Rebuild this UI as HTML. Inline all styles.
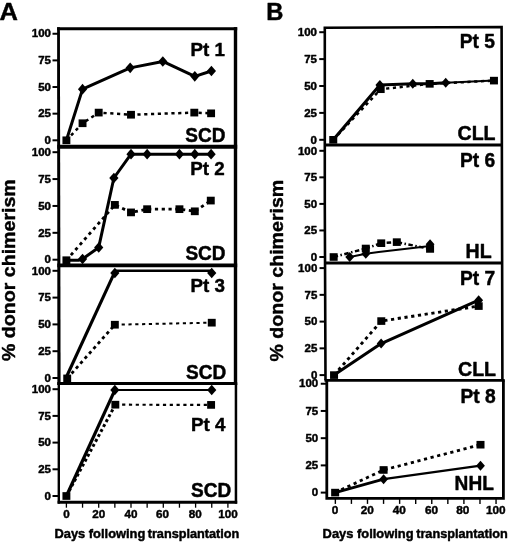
<!DOCTYPE html>
<html><head><meta charset="utf-8"><title>Donor chimerism</title>
<style>
html,body{margin:0;padding:0;background:#fff;}
body{width:520px;height:542px;overflow:hidden;}
svg{display:block;filter:grayscale(1);font-family:"Liberation Sans",sans-serif;font-weight:bold;fill:#000;}
</style></head><body>
<svg width="520" height="542" viewBox="0 0 520 542">
<rect x="0" y="0" width="520" height="542" fill="#fff" stroke="none"/>
<polygon points="57.1,27.15 59.9,27.15 60.6,384.9 57.4,384.9" fill="#000"/>
<rect x="233.8" y="27.15" width="3.4" height="357.7" fill="#000"/>
<line x1="57.10" y1="28.70" x2="237.20" y2="28.70" stroke="#000" stroke-width="3.1" />
<line x1="57.30" y1="146.65" x2="237.20" y2="146.65" stroke="#000" stroke-width="4.0" />
<line x1="57.30" y1="265.35" x2="237.20" y2="265.35" stroke="#000" stroke-width="3.9" />
<line x1="57.30" y1="383.40" x2="237.20" y2="383.40" stroke="#000" stroke-width="3.0" />
<rect x="57.6" y="383.4" width="2.4" height="120.25" fill="#000"/>
<rect x="234.7" y="383.4" width="2.5" height="120.25" fill="#000"/>
<line x1="57.60" y1="502.25" x2="237.20" y2="502.25" stroke="#000" stroke-width="2.9" />
<line x1="52.50" y1="33.75" x2="58.50" y2="33.75" stroke="#000" stroke-width="2.0" />
<text transform="translate(51.00,37.45)" font-size="11.5" text-anchor="end" stroke="#000" stroke-width="0.45" stroke-linejoin="round">100</text>
<line x1="52.50" y1="60.39" x2="58.50" y2="60.39" stroke="#000" stroke-width="2.0" />
<text transform="translate(51.00,64.09)" font-size="11.5" text-anchor="end" stroke="#000" stroke-width="0.45" stroke-linejoin="round">75</text>
<line x1="52.50" y1="87.03" x2="58.50" y2="87.03" stroke="#000" stroke-width="2.0" />
<text transform="translate(51.00,90.73)" font-size="11.5" text-anchor="end" stroke="#000" stroke-width="0.45" stroke-linejoin="round">50</text>
<line x1="52.50" y1="113.66" x2="58.50" y2="113.66" stroke="#000" stroke-width="2.0" />
<text transform="translate(51.00,117.36)" font-size="11.5" text-anchor="end" stroke="#000" stroke-width="0.45" stroke-linejoin="round">25</text>
<line x1="52.50" y1="140.30" x2="58.50" y2="140.30" stroke="#000" stroke-width="2.0" />
<text transform="translate(51.00,144.00)" font-size="11.5" text-anchor="end" stroke="#000" stroke-width="0.45" stroke-linejoin="round">0</text>
<line x1="52.50" y1="152.20" x2="58.50" y2="152.20" stroke="#000" stroke-width="2.0" />
<text transform="translate(51.00,155.90)" font-size="11.5" text-anchor="end" stroke="#000" stroke-width="0.45" stroke-linejoin="round">100</text>
<line x1="52.50" y1="179.07" x2="58.50" y2="179.07" stroke="#000" stroke-width="2.0" />
<text transform="translate(51.00,182.77)" font-size="11.5" text-anchor="end" stroke="#000" stroke-width="0.45" stroke-linejoin="round">75</text>
<line x1="52.50" y1="205.95" x2="58.50" y2="205.95" stroke="#000" stroke-width="2.0" />
<text transform="translate(51.00,209.65)" font-size="11.5" text-anchor="end" stroke="#000" stroke-width="0.45" stroke-linejoin="round">50</text>
<line x1="52.50" y1="232.82" x2="58.50" y2="232.82" stroke="#000" stroke-width="2.0" />
<text transform="translate(51.00,236.52)" font-size="11.5" text-anchor="end" stroke="#000" stroke-width="0.45" stroke-linejoin="round">25</text>
<line x1="52.50" y1="259.70" x2="58.50" y2="259.70" stroke="#000" stroke-width="2.0" />
<text transform="translate(51.00,263.40)" font-size="11.5" text-anchor="end" stroke="#000" stroke-width="0.45" stroke-linejoin="round">0</text>
<line x1="52.50" y1="270.80" x2="58.50" y2="270.80" stroke="#000" stroke-width="2.0" />
<text transform="translate(51.00,274.50)" font-size="11.5" text-anchor="end" stroke="#000" stroke-width="0.45" stroke-linejoin="round">100</text>
<line x1="52.50" y1="297.60" x2="58.50" y2="297.60" stroke="#000" stroke-width="2.0" />
<text transform="translate(51.00,301.30)" font-size="11.5" text-anchor="end" stroke="#000" stroke-width="0.45" stroke-linejoin="round">75</text>
<line x1="52.50" y1="324.40" x2="58.50" y2="324.40" stroke="#000" stroke-width="2.0" />
<text transform="translate(51.00,328.10)" font-size="11.5" text-anchor="end" stroke="#000" stroke-width="0.45" stroke-linejoin="round">50</text>
<line x1="52.50" y1="351.20" x2="58.50" y2="351.20" stroke="#000" stroke-width="2.0" />
<text transform="translate(51.00,354.90)" font-size="11.5" text-anchor="end" stroke="#000" stroke-width="0.45" stroke-linejoin="round">25</text>
<line x1="52.50" y1="378.00" x2="58.50" y2="378.00" stroke="#000" stroke-width="2.0" />
<text transform="translate(51.00,381.70)" font-size="11.5" text-anchor="end" stroke="#000" stroke-width="0.45" stroke-linejoin="round">0</text>
<line x1="52.50" y1="389.20" x2="58.50" y2="389.20" stroke="#000" stroke-width="2.0" />
<text transform="translate(51.00,392.90)" font-size="11.5" text-anchor="end" stroke="#000" stroke-width="0.45" stroke-linejoin="round">100</text>
<line x1="52.50" y1="415.90" x2="58.50" y2="415.90" stroke="#000" stroke-width="2.0" />
<text transform="translate(51.00,419.60)" font-size="11.5" text-anchor="end" stroke="#000" stroke-width="0.45" stroke-linejoin="round">75</text>
<line x1="52.50" y1="442.60" x2="58.50" y2="442.60" stroke="#000" stroke-width="2.0" />
<text transform="translate(51.00,446.30)" font-size="11.5" text-anchor="end" stroke="#000" stroke-width="0.45" stroke-linejoin="round">50</text>
<line x1="52.50" y1="469.30" x2="58.50" y2="469.30" stroke="#000" stroke-width="2.0" />
<text transform="translate(51.00,473.00)" font-size="11.5" text-anchor="end" stroke="#000" stroke-width="0.45" stroke-linejoin="round">25</text>
<line x1="52.50" y1="496.00" x2="58.50" y2="496.00" stroke="#000" stroke-width="2.0" />
<text transform="translate(51.00,499.70)" font-size="11.5" text-anchor="end" stroke="#000" stroke-width="0.45" stroke-linejoin="round">0</text>
<line x1="66.40" y1="502.40" x2="66.40" y2="507.70" stroke="#000" stroke-width="1.3" />
<text transform="translate(66.40,518.10)" font-size="11.7" text-anchor="middle" stroke="#000" stroke-width="0.45" stroke-linejoin="round">0</text>
<line x1="82.55" y1="502.40" x2="82.55" y2="507.70" stroke="#000" stroke-width="1.3" />
<line x1="98.70" y1="502.40" x2="98.70" y2="507.70" stroke="#000" stroke-width="1.3" />
<text transform="translate(98.70,518.10)" font-size="11.7" text-anchor="middle" stroke="#000" stroke-width="0.45" stroke-linejoin="round">20</text>
<line x1="114.85" y1="502.40" x2="114.85" y2="507.70" stroke="#000" stroke-width="1.3" />
<line x1="131.00" y1="502.40" x2="131.00" y2="507.70" stroke="#000" stroke-width="1.3" />
<text transform="translate(131.00,518.10)" font-size="11.7" text-anchor="middle" stroke="#000" stroke-width="0.45" stroke-linejoin="round">40</text>
<line x1="147.15" y1="502.40" x2="147.15" y2="507.70" stroke="#000" stroke-width="1.3" />
<line x1="163.30" y1="502.40" x2="163.30" y2="507.70" stroke="#000" stroke-width="1.3" />
<text transform="translate(162.50,518.10)" font-size="11.7" text-anchor="middle" stroke="#000" stroke-width="0.45" stroke-linejoin="round">60</text>
<line x1="179.45" y1="502.40" x2="179.45" y2="507.70" stroke="#000" stroke-width="1.3" />
<line x1="195.60" y1="502.40" x2="195.60" y2="507.70" stroke="#000" stroke-width="1.3" />
<text transform="translate(195.20,518.10)" font-size="11.7" text-anchor="middle" stroke="#000" stroke-width="0.45" stroke-linejoin="round">80</text>
<line x1="211.75" y1="502.40" x2="211.75" y2="507.70" stroke="#000" stroke-width="1.3" />
<line x1="227.90" y1="502.40" x2="227.90" y2="507.70" stroke="#000" stroke-width="1.3" />
<text transform="translate(227.90,518.10)" font-size="11.7" text-anchor="middle" stroke="#000" stroke-width="0.45" stroke-linejoin="round">100</text>
<text transform="translate(54.40,537.50)" font-size="12.9" text-anchor="start" stroke="#000" stroke-width="0.45" stroke-linejoin="round">Days following</text>
<text transform="translate(239.30,537.50)" font-size="12.7" text-anchor="end" stroke="#000" stroke-width="0.45" stroke-linejoin="round">transplantation</text>
<polyline points="66.40,140.30 82.55,123.25 98.70,112.60 131.00,114.73 194.31,112.60 211.10,113.34" fill="none" stroke="#000" stroke-width="2.5" stroke-linejoin="round" stroke-dasharray="3.2 3.6"/>
<polyline points="66.40,140.30 82.55,89.16 130.19,67.85 162.82,61.45 194.79,76.37 211.43,71.04" fill="none" stroke="#000" stroke-width="3" stroke-linejoin="round" />
<polygon points="77.95,89.16 82.55,83.86 87.15,89.16 82.55,94.46" fill="#000"/>
<polygon points="125.59,67.85 130.19,62.55 134.79,67.85 130.19,73.15" fill="#000"/>
<polygon points="158.22,61.45 162.82,56.15 167.42,61.45 162.82,66.75" fill="#000"/>
<polygon points="190.19,76.37 194.79,71.07 199.39,76.37 194.79,81.67" fill="#000"/>
<polygon points="206.83,71.04 211.43,65.74 216.03,71.04 211.43,76.34" fill="#000"/>
<rect x="62.45" y="136.45" width="7.9" height="7.7" fill="#000"/>
<rect x="78.60" y="119.40" width="7.9" height="7.7" fill="#000"/>
<rect x="94.75" y="108.75" width="7.9" height="7.7" fill="#000"/>
<rect x="127.05" y="110.88" width="7.9" height="7.7" fill="#000"/>
<rect x="190.36" y="108.75" width="7.9" height="7.7" fill="#000"/>
<rect x="207.15" y="109.49" width="7.9" height="7.7" fill="#000"/>
<polyline points="66.40,260.24 114.85,204.88 131.00,212.40 147.15,209.17 179.45,209.17 194.79,211.32 210.78,200.57" fill="none" stroke="#000" stroke-width="2.8" stroke-linejoin="round" stroke-dasharray="3.2 3.6"/>
<polyline points="66.40,260.24 78.51,260.24 82.55,258.95 98.70,247.44 113.88,178.00 131.00,154.13 211.10,154.13" fill="none" stroke="#000" stroke-width="3" stroke-linejoin="round" />
<polygon points="77.95,258.95 82.55,253.65 87.15,258.95 82.55,264.25" fill="#000"/>
<polygon points="94.10,247.44 98.70,242.14 103.30,247.44 98.70,252.75" fill="#000"/>
<polygon points="109.28,178.00 113.88,172.70 118.48,178.00 113.88,183.30" fill="#000"/>
<polygon points="126.40,154.13 131.00,148.83 135.60,154.13 131.00,159.44" fill="#000"/>
<polygon points="142.55,154.13 147.15,148.83 151.75,154.13 147.15,159.44" fill="#000"/>
<polygon points="174.85,154.13 179.45,148.83 184.05,154.13 179.45,159.44" fill="#000"/>
<polygon points="190.19,154.13 194.79,148.83 199.39,154.13 194.79,159.44" fill="#000"/>
<polygon points="206.50,154.13 211.10,148.83 215.70,154.13 211.10,159.44" fill="#000"/>
<rect x="62.45" y="256.39" width="7.9" height="7.7" fill="#000"/>
<rect x="110.90" y="201.03" width="7.9" height="7.7" fill="#000"/>
<rect x="127.05" y="208.55" width="7.9" height="7.7" fill="#000"/>
<rect x="143.20" y="205.32" width="7.9" height="7.7" fill="#000"/>
<rect x="175.50" y="205.32" width="7.9" height="7.7" fill="#000"/>
<rect x="190.84" y="207.47" width="7.9" height="7.7" fill="#000"/>
<rect x="206.83" y="196.72" width="7.9" height="7.7" fill="#000"/>
<polyline points="67.21,378.43 114.85,324.72" fill="none" stroke="#000" stroke-width="2.8" stroke-linejoin="round" stroke-dasharray="3.2 3.4"/>
<polyline points="114.85,324.72 211.75,322.68" fill="none" stroke="#000" stroke-width="2.0" stroke-linejoin="round" stroke-dasharray="3.2 3.6"/>
<polyline points="65.92,378.00 114.37,272.94" fill="none" stroke="#000" stroke-width="3.1" stroke-linejoin="round" />
<polyline points="114.85,270.80 211.75,270.80" fill="none" stroke="#000" stroke-width="2.6" stroke-linejoin="round" />
<polygon points="110.25,272.94 114.85,267.64 119.45,272.94 114.85,278.24" fill="#000"/>
<polygon points="207.15,272.94 211.75,267.64 216.35,272.94 211.75,278.24" fill="#000"/>
<rect x="63.26" y="374.58" width="7.9" height="7.7" fill="#000"/>
<rect x="110.90" y="320.87" width="7.9" height="7.7" fill="#000"/>
<rect x="207.80" y="318.83" width="7.9" height="7.7" fill="#000"/>
<polyline points="66.40,496.00 115.33,404.69" fill="none" stroke="#000" stroke-width="3.0" stroke-linejoin="round" stroke-dasharray="3 2.6"/>
<polyline points="115.33,404.69 211.10,404.90" fill="none" stroke="#000" stroke-width="2.2" stroke-linejoin="round" stroke-dasharray="3.2 3.6"/>
<polyline points="66.40,496.00 114.85,390.05" fill="none" stroke="#000" stroke-width="3.2" stroke-linejoin="round" />
<polyline points="114.04,390.05 211.75,390.05" fill="none" stroke="#000" stroke-width="2.1" stroke-linejoin="round" />
<polygon points="110.25,390.05 114.85,384.75 119.45,390.05 114.85,395.35" fill="#000"/>
<polygon points="207.15,390.05 211.75,384.75 216.35,390.05 211.75,395.35" fill="#000"/>
<rect x="62.45" y="492.15" width="7.9" height="7.7" fill="#000"/>
<rect x="111.38" y="400.84" width="7.9" height="7.7" fill="#000"/>
<rect x="207.15" y="401.05" width="7.9" height="7.7" fill="#000"/>
<text transform="translate(190.50,55.50)" font-size="18.8" text-anchor="start" stroke="#000" stroke-width="0.45" stroke-linejoin="round">Pt 1</text>
<text transform="translate(185.30,142.20) scale(1,1.09)" font-size="19" text-anchor="start" stroke="#000" stroke-width="0.45" stroke-linejoin="round">SCD</text>
<text transform="translate(190.30,175.40)" font-size="18.8" text-anchor="start" stroke="#000" stroke-width="0.45" stroke-linejoin="round">Pt 2</text>
<text transform="translate(185.40,259.80) scale(1,1.09)" font-size="19" text-anchor="start" stroke="#000" stroke-width="0.45" stroke-linejoin="round">SCD</text>
<text transform="translate(190.50,291.50)" font-size="18.8" text-anchor="start" stroke="#000" stroke-width="0.45" stroke-linejoin="round">Pt 3</text>
<text transform="translate(186.00,378.60) scale(1,1.09)" font-size="19" text-anchor="start" stroke="#000" stroke-width="0.45" stroke-linejoin="round">SCD</text>
<text transform="translate(190.90,430.90)" font-size="18.8" text-anchor="start" stroke="#000" stroke-width="0.45" stroke-linejoin="round">Pt 4</text>
<text transform="translate(191.10,496.90) scale(1,1.09)" font-size="19" text-anchor="start" stroke="#000" stroke-width="0.45" stroke-linejoin="round">SCD</text>
<path d="M325.5,380.3 L324.79999999999995,203.8  L324.79999999999995,27.7 L501.6,27.0 L502.40000000000003,380.3" fill="none" stroke="#000" stroke-width="2.6" stroke-linejoin="miter"/>
<line x1="324.90" y1="145.00" x2="501.90" y2="145.00" stroke="#000" stroke-width="3.0" />
<line x1="324.90" y1="263.00" x2="502.20" y2="263.00" stroke="#000" stroke-width="2.9" />
<line x1="324.50" y1="380.30" x2="504.70" y2="380.30" stroke="#000" stroke-width="2.8" />
<path d="M326.8,380.3 L326.8,498.3 L503.4,498.3 L503.4,380.3" fill="none" stroke="#000" stroke-width="2.8"/>
<line x1="319.25" y1="32.20" x2="324.90" y2="32.20" stroke="#000" stroke-width="2.0" />
<text transform="translate(317.00,35.90)" font-size="11.5" text-anchor="end" stroke="#000" stroke-width="0.45" stroke-linejoin="round">100</text>
<line x1="319.25" y1="59.10" x2="324.90" y2="59.10" stroke="#000" stroke-width="2.0" />
<text transform="translate(317.00,62.80)" font-size="11.5" text-anchor="end" stroke="#000" stroke-width="0.45" stroke-linejoin="round">75</text>
<line x1="319.25" y1="86.00" x2="324.90" y2="86.00" stroke="#000" stroke-width="2.0" />
<text transform="translate(317.00,89.70)" font-size="11.5" text-anchor="end" stroke="#000" stroke-width="0.45" stroke-linejoin="round">50</text>
<line x1="319.25" y1="112.90" x2="324.90" y2="112.90" stroke="#000" stroke-width="2.0" />
<text transform="translate(317.00,116.60)" font-size="11.5" text-anchor="end" stroke="#000" stroke-width="0.45" stroke-linejoin="round">25</text>
<line x1="319.25" y1="139.80" x2="324.90" y2="139.80" stroke="#000" stroke-width="2.0" />
<text transform="translate(317.00,143.50)" font-size="11.5" text-anchor="end" stroke="#000" stroke-width="0.45" stroke-linejoin="round">0</text>
<line x1="319.35" y1="150.80" x2="325.00" y2="150.80" stroke="#000" stroke-width="2.0" />
<text transform="translate(317.10,154.50)" font-size="11.5" text-anchor="end" stroke="#000" stroke-width="0.45" stroke-linejoin="round">100</text>
<line x1="319.35" y1="177.35" x2="325.00" y2="177.35" stroke="#000" stroke-width="2.0" />
<text transform="translate(317.10,181.05)" font-size="11.5" text-anchor="end" stroke="#000" stroke-width="0.45" stroke-linejoin="round">75</text>
<line x1="319.35" y1="203.90" x2="325.00" y2="203.90" stroke="#000" stroke-width="2.0" />
<text transform="translate(317.10,207.60)" font-size="11.5" text-anchor="end" stroke="#000" stroke-width="0.45" stroke-linejoin="round">50</text>
<line x1="319.35" y1="230.45" x2="325.00" y2="230.45" stroke="#000" stroke-width="2.0" />
<text transform="translate(317.10,234.15)" font-size="11.5" text-anchor="end" stroke="#000" stroke-width="0.45" stroke-linejoin="round">25</text>
<line x1="319.35" y1="257.00" x2="325.00" y2="257.00" stroke="#000" stroke-width="2.0" />
<text transform="translate(317.10,260.70)" font-size="11.5" text-anchor="end" stroke="#000" stroke-width="0.45" stroke-linejoin="round">0</text>
<line x1="319.55" y1="268.10" x2="325.20" y2="268.10" stroke="#000" stroke-width="2.0" />
<text transform="translate(317.30,271.80)" font-size="11.5" text-anchor="end" stroke="#000" stroke-width="0.45" stroke-linejoin="round">100</text>
<line x1="319.55" y1="294.85" x2="325.20" y2="294.85" stroke="#000" stroke-width="2.0" />
<text transform="translate(317.30,298.55)" font-size="11.5" text-anchor="end" stroke="#000" stroke-width="0.45" stroke-linejoin="round">75</text>
<line x1="319.55" y1="321.60" x2="325.20" y2="321.60" stroke="#000" stroke-width="2.0" />
<text transform="translate(317.30,325.30)" font-size="11.5" text-anchor="end" stroke="#000" stroke-width="0.45" stroke-linejoin="round">50</text>
<line x1="319.55" y1="348.35" x2="325.20" y2="348.35" stroke="#000" stroke-width="2.0" />
<text transform="translate(317.30,352.05)" font-size="11.5" text-anchor="end" stroke="#000" stroke-width="0.45" stroke-linejoin="round">25</text>
<line x1="319.55" y1="375.10" x2="325.20" y2="375.10" stroke="#000" stroke-width="2.0" />
<text transform="translate(317.30,378.80)" font-size="11.5" text-anchor="end" stroke="#000" stroke-width="0.45" stroke-linejoin="round">0</text>
<line x1="320.75" y1="383.75" x2="327.00" y2="383.75" stroke="#000" stroke-width="2.0" />
<text transform="translate(318.20,387.45)" font-size="11.5" text-anchor="end" stroke="#000" stroke-width="0.45" stroke-linejoin="round">100</text>
<line x1="320.75" y1="410.96" x2="327.00" y2="410.96" stroke="#000" stroke-width="2.0" />
<text transform="translate(318.20,414.66)" font-size="11.5" text-anchor="end" stroke="#000" stroke-width="0.45" stroke-linejoin="round">75</text>
<line x1="320.75" y1="438.18" x2="327.00" y2="438.18" stroke="#000" stroke-width="2.0" />
<text transform="translate(318.20,441.88)" font-size="11.5" text-anchor="end" stroke="#000" stroke-width="0.45" stroke-linejoin="round">50</text>
<line x1="320.75" y1="465.39" x2="327.00" y2="465.39" stroke="#000" stroke-width="2.0" />
<text transform="translate(318.20,469.09)" font-size="11.5" text-anchor="end" stroke="#000" stroke-width="0.45" stroke-linejoin="round">25</text>
<line x1="320.75" y1="492.60" x2="327.00" y2="492.60" stroke="#000" stroke-width="2.0" />
<text transform="translate(318.20,496.30)" font-size="11.5" text-anchor="end" stroke="#000" stroke-width="0.45" stroke-linejoin="round">0</text>
<line x1="335.35" y1="498.30" x2="335.35" y2="503.90" stroke="#000" stroke-width="1.4" />
<text transform="translate(335.05,514.10)" font-size="11.8" text-anchor="middle" stroke="#000" stroke-width="0.45" stroke-linejoin="round">0</text>
<line x1="351.42" y1="498.30" x2="351.42" y2="503.90" stroke="#000" stroke-width="1.4" />
<line x1="367.49" y1="498.30" x2="367.49" y2="503.90" stroke="#000" stroke-width="1.4" />
<text transform="translate(367.19,514.10)" font-size="11.8" text-anchor="middle" stroke="#000" stroke-width="0.45" stroke-linejoin="round">20</text>
<line x1="383.56" y1="498.30" x2="383.56" y2="503.90" stroke="#000" stroke-width="1.4" />
<line x1="399.63" y1="498.30" x2="399.63" y2="503.90" stroke="#000" stroke-width="1.4" />
<text transform="translate(399.33,514.10)" font-size="11.8" text-anchor="middle" stroke="#000" stroke-width="0.45" stroke-linejoin="round">40</text>
<line x1="415.70" y1="498.30" x2="415.70" y2="503.90" stroke="#000" stroke-width="1.4" />
<line x1="431.77" y1="498.30" x2="431.77" y2="503.90" stroke="#000" stroke-width="1.4" />
<text transform="translate(431.47,514.10)" font-size="11.8" text-anchor="middle" stroke="#000" stroke-width="0.45" stroke-linejoin="round">60</text>
<line x1="447.84" y1="498.30" x2="447.84" y2="503.90" stroke="#000" stroke-width="1.4" />
<line x1="463.91" y1="498.30" x2="463.91" y2="503.90" stroke="#000" stroke-width="1.4" />
<text transform="translate(462.71,514.10)" font-size="11.8" text-anchor="middle" stroke="#000" stroke-width="0.45" stroke-linejoin="round">80</text>
<line x1="479.98" y1="498.30" x2="479.98" y2="503.90" stroke="#000" stroke-width="1.4" />
<line x1="496.05" y1="498.30" x2="496.05" y2="503.90" stroke="#000" stroke-width="1.4" />
<text transform="translate(495.75,514.10)" font-size="11.8" text-anchor="middle" stroke="#000" stroke-width="0.45" stroke-linejoin="round">100</text>
<text transform="translate(322.60,537.80)" font-size="12.9" text-anchor="start" stroke="#000" stroke-width="0.45" stroke-linejoin="round">Days following</text>
<text transform="translate(507.80,537.80)" font-size="12.7" text-anchor="end" stroke="#000" stroke-width="0.45" stroke-linejoin="round">transplantation</text>
<polyline points="333.25,139.80 380.66,89.23 429.67,83.85 493.95,80.62" fill="none" stroke="#000" stroke-width="2.5" stroke-linejoin="round" stroke-dasharray="3.2 3.6"/>
<polyline points="333.25,139.80 379.85,84.92 412.80,83.85 429.67,83.85 445.74,82.77" fill="none" stroke="#000" stroke-width="3.0" stroke-linejoin="round" />
<polyline points="445.74,82.77 493.95,80.62" fill="none" stroke="#000" stroke-width="2.0" stroke-linejoin="round" />
<polygon points="375.45,84.92 379.85,79.92 384.25,84.92 379.85,89.92" fill="#000"/>
<polygon points="408.40,83.85 412.80,78.85 417.20,83.85 412.80,88.85" fill="#000"/>
<polygon points="441.34,82.77 445.74,77.77 450.14,82.77 445.74,87.77" fill="#000"/>
<rect x="329.25" y="136.00" width="8.0" height="7.6" fill="#000"/>
<rect x="376.66" y="85.43" width="8.0" height="7.6" fill="#000"/>
<rect x="425.67" y="80.05" width="8.0" height="7.6" fill="#000"/>
<rect x="489.95" y="76.82" width="8.0" height="7.6" fill="#000"/>
<polyline points="333.65,257.00 365.79,248.50 381.22,243.19 396.81,242.13 430.07,248.93" fill="none" stroke="#000" stroke-width="2.5" stroke-linejoin="round" stroke-dasharray="4.5 2.5 1.5 2.5"/>
<polyline points="349.72,257.00 365.79,253.81 378.65,251.90 430.07,245.96" fill="none" stroke="#000" stroke-width="2.0" stroke-linejoin="round" />
<polygon points="345.32,257.00 349.72,252.00 354.12,257.00 349.72,262.00" fill="#000"/>
<polygon points="361.39,253.81 365.79,248.81 370.19,253.81 365.79,258.81" fill="#000"/>
<polygon points="425.67,244.26 430.07,239.26 434.47,244.26 430.07,249.26" fill="#000"/>
<rect x="329.65" y="253.20" width="8.0" height="7.6" fill="#000"/>
<rect x="361.79" y="244.70" width="8.0" height="7.6" fill="#000"/>
<rect x="377.22" y="239.39" width="8.0" height="7.6" fill="#000"/>
<rect x="392.81" y="238.33" width="8.0" height="7.6" fill="#000"/>
<rect x="426.07" y="245.13" width="8.0" height="7.6" fill="#000"/>
<polyline points="334.05,375.10 381.30,321.07 478.68,306.09" fill="none" stroke="#000" stroke-width="2.9" stroke-linejoin="round" stroke-dasharray="3.2 3.6"/>
<polyline points="334.05,375.10 381.14,343.54 478.68,300.20" fill="none" stroke="#000" stroke-width="3" stroke-linejoin="round" />
<polygon points="376.74,343.54 381.14,338.54 385.54,343.54 381.14,348.54" fill="#000"/>
<polygon points="474.28,300.20 478.68,295.20 483.08,300.20 478.68,305.20" fill="#000"/>
<rect x="330.05" y="371.30" width="8.0" height="7.6" fill="#000"/>
<rect x="377.30" y="317.27" width="8.0" height="7.6" fill="#000"/>
<rect x="474.68" y="302.29" width="8.0" height="7.6" fill="#000"/>
<polyline points="335.15,492.60 383.60,469.96 480.50,444.71" fill="none" stroke="#000" stroke-width="2.8" stroke-linejoin="round" stroke-dasharray="3.2 3.6"/>
<polyline points="335.15,492.60 383.60,479.21" fill="none" stroke="#000" stroke-width="2.9" stroke-linejoin="round" />
<polyline points="383.60,479.21 480.50,465.71" fill="none" stroke="#000" stroke-width="2.3" stroke-linejoin="round" />
<polygon points="379.20,479.21 383.60,474.21 388.00,479.21 383.60,484.21" fill="#000"/>
<polygon points="476.10,465.71 480.50,460.71 484.90,465.71 480.50,470.71" fill="#000"/>
<rect x="331.15" y="488.80" width="8.0" height="7.6" fill="#000"/>
<rect x="379.60" y="466.16" width="8.0" height="7.6" fill="#000"/>
<rect x="476.50" y="440.91" width="8.0" height="7.6" fill="#000"/>
<text transform="translate(459.80,48.40) scale(1,1.05)" font-size="19.2" text-anchor="start" stroke="#000" stroke-width="0.45" stroke-linejoin="round">Pt 5</text>
<text transform="translate(457.50,140.20) scale(1.02,1.07)" font-size="19.2" text-anchor="start" stroke="#000" stroke-width="0.45" stroke-linejoin="round">CLL</text>
<text transform="translate(460.00,166.75) scale(1,1.05)" font-size="19.2" text-anchor="start" stroke="#000" stroke-width="0.45" stroke-linejoin="round">Pt 6</text>
<text transform="translate(465.60,258.30) scale(1.02,1.07)" font-size="19.2" text-anchor="start" stroke="#000" stroke-width="0.45" stroke-linejoin="round">HL</text>
<text transform="translate(460.00,284.60) scale(1,1.05)" font-size="19.2" text-anchor="start" stroke="#000" stroke-width="0.45" stroke-linejoin="round">Pt 7</text>
<text transform="translate(458.00,376.40) scale(1.02,1.07)" font-size="19.2" text-anchor="start" stroke="#000" stroke-width="0.45" stroke-linejoin="round">CLL</text>
<text transform="translate(460.40,403.00) scale(1,1.05)" font-size="19.2" text-anchor="start" stroke="#000" stroke-width="0.45" stroke-linejoin="round">Pt 8</text>
<text transform="translate(454.60,489.90) scale(0.995,1.02)" font-size="19.2" text-anchor="start" stroke="#000" stroke-width="0.45" stroke-linejoin="round">NHL</text>
<text transform="translate(-0.40,19.70) scale(1.085,1.015)" font-size="23.5" text-anchor="start" stroke="#000" stroke-width="0.45" stroke-linejoin="round">A</text>
<text transform="translate(266.20,19.70) scale(1.01,1.02)" font-size="23.5" text-anchor="start" stroke="#000" stroke-width="0.45" stroke-linejoin="round">B</text>
<text transform="translate(15.00,361.00) rotate(-90) scale(1,0.98)" font-size="19.6" text-anchor="start" stroke="#000" stroke-width="0.45" stroke-linejoin="round">% donor chimerism</text>
<text transform="translate(283.00,361.50) rotate(-90) scale(1,0.98)" font-size="19.6" text-anchor="start" stroke="#000" stroke-width="0.45" stroke-linejoin="round">% donor chimerism</text>
</svg>
</body></html>
